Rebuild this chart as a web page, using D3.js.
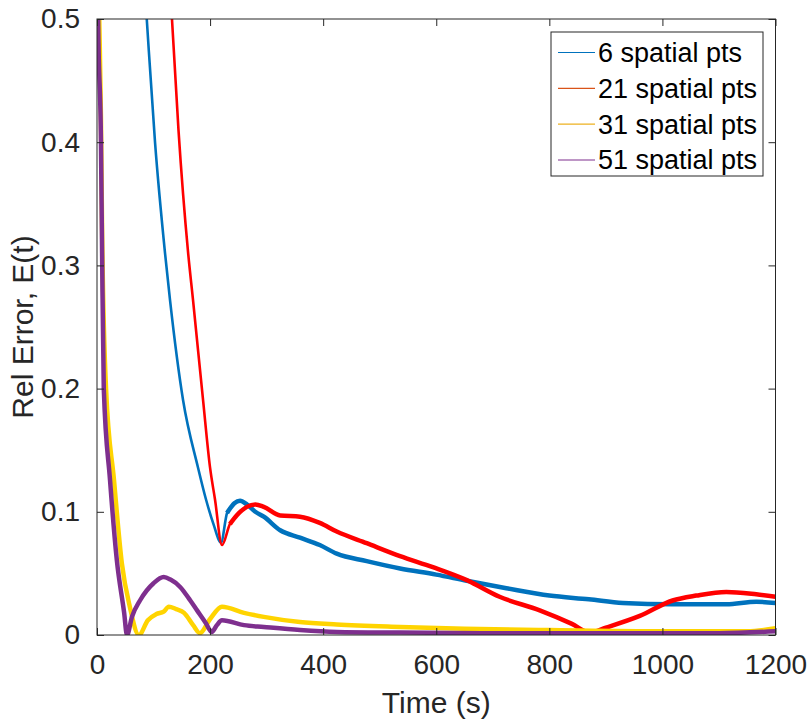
<!DOCTYPE html>
<html><head><meta charset="utf-8">
<script src="https://cdn.jsdelivr.net/npm/d3@7"></script>
<style>body{margin:0;background:#fff;} svg{display:block;font-family:"Liberation Sans",Arial,sans-serif;}</style>
</head><body>
<script>
// ---- data ----
const seriesNames = ["6 spatial pts", "21 spatial pts", "31 spatial pts", "51 spatial pts"];
const lineColors = ["#0072BD", "#FF0000", "#FFD400", "#7E2F8E"];
const legendColors = ["#0072BD", "#D95319", "#EDB120", "#7E2F8E"];
const xTicks = [0, 200, 400, 600, 800, 1000, 1200];
const yTicks = [0, 0.1, 0.2, 0.3, 0.4, 0.5];
const yTickLabels = ["0", "0.1", "0.2", "0.3", "0.4", "0.5"];

const t6 = [70, 88, 102.6, 120.3, 129.1, 152.1, 178.6, 192.8, 206, 219.3, 230, 243, 253, 265, 280, 295, 324, 359, 394, 424, 477, 536, 600, 654, 724, 800, 870, 930, 1018, 1113, 1166, 1200];
const v6 = [0.63, 0.5, 0.4, 0.31, 0.272, 0.191, 0.136, 0.110, 0.090, 0.075, 0.099, 0.107, 0.109, 0.106, 0.100, 0.096, 0.085, 0.079, 0.073, 0.066, 0.060, 0.054, 0.049, 0.044, 0.038, 0.032, 0.029, 0.026, 0.025, 0.025, 0.027, 0.026];

const t21 = [118, 132.6, 144.1, 161, 169.8, 187.5, 199.9, 208.7, 221, 235, 247, 265, 280, 295, 324, 359, 394, 424, 477, 536, 594, 654, 712, 783, 840, 872, 900, 960, 1018, 1060, 1113, 1166, 1200];
const v21 = [0.63, 0.5, 0.41, 0.311, 0.272, 0.191, 0.136, 0.110, 0.073, 0.090, 0.097, 0.104, 0.106, 0.104, 0.097, 0.096, 0.091, 0.084, 0.0745, 0.064, 0.055, 0.0445, 0.031, 0.020, 0.009, 0.002, 0.006, 0.0155, 0.028, 0.032, 0.035, 0.033, 0.031];

const t31 = [0, 4, 7, 9, 16, 30, 44, 58, 74, 90, 105, 118, 127, 140, 154, 170, 182, 200, 221, 260, 295, 359, 424, 536, 650, 800, 1000, 1150, 1200];
const v31 = [0.6, 0.5, 0.42, 0.33, 0.2, 0.126, 0.058, 0.023, 0.0, 0.012, 0.017, 0.019, 0.023, 0.021, 0.018, 0.008, 0.0015, 0.013, 0.023, 0.018, 0.0147, 0.0105, 0.0085, 0.0065, 0.005, 0.004, 0.003, 0.003, 0.0055];

const t51 = [0, 2, 7, 9, 12, 23, 35, 48, 53, 62, 76, 100, 118, 130, 147, 165, 177, 192, 203, 212, 221, 260, 295, 359, 424, 536, 700, 900, 1100, 1200];
const v51 = [0.6, 0.5, 0.4, 0.31, 0.2, 0.126, 0.061, 0.018, 0.0, 0.015, 0.028, 0.042, 0.047, 0.045, 0.039, 0.028, 0.020, 0.010, 0.0024, 0.008, 0.012, 0.008, 0.0065, 0.004, 0.0025, 0.002, 0.0015, 0.0015, 0.0015, 0.003];

const seriesT = [t6, t21, t31, t51];
const seriesV = [v6, v21, v31, v51];

// ---- layout ----
const W = 809, H = 722;
const L = 97, R = 775.5, T = 19, B = 635;
const svg = d3.select("body").append("svg").attr("width", W).attr("height", H);

const x = d3.scaleLinear().domain([0, 1200]).range([L, R]);
const y = d3.scaleLinear().domain([0, 0.5]).range([B, T]);

svg.append("defs").append("clipPath").attr("id", "clip")
  .append("rect").attr("x", L).attr("y", T).attr("width", R - L).attr("height", B - T);

const line = d3.line().x(d => x(d[0])).y(d => y(d[1])).curve(d3.curveMonotoneX);
const plot = svg.append("g").attr("clip-path", "url(#clip)");

seriesT.forEach((ts, i) => {
  const pts = ts.map((t, k) => [t, seriesV[i][k]]);
  const thin = i < 2;
  plot.append("path").datum(pts).attr("d", line)
    .attr("fill", "none").attr("stroke", lineColors[i])
    .attr("stroke-width", thin ? 2.6 : 4.5).attr("stroke-linejoin", "round");
  if (thin) {
    const after = pts.filter(p => p[0] >= 228);
    plot.append("path").datum(after).attr("d", line)
      .attr("fill", "none").attr("stroke", lineColors[i])
      .attr("stroke-width", 4.5).attr("stroke-linejoin", "round");
  }
});

// ---- axes (box with inward ticks) ----
const axisColor = "#262626";
const tickLen = 7;
const ax = svg.append("g");
ax.append("rect").attr("x", L).attr("y", T).attr("width", R - L).attr("height", B - T)
  .attr("fill", "none").attr("stroke", axisColor).attr("stroke-width", 1);

const xAxisB = d3.axisBottom(x).tickValues(xTicks).tickSize(-tickLen).tickPadding(tickLen + 12).tickFormat(d3.format("d"));
const gxb = svg.append("g").attr("transform", `translate(0,${B})`).call(xAxisB);
gxb.select(".domain").remove();
gxb.selectAll("line").attr("stroke", axisColor);
gxb.selectAll("text").attr("fill", axisColor).attr("font-size", 28).attr("font-family", "Liberation Sans, Arial, sans-serif");

const xAxisT = d3.axisTop(x).tickValues(xTicks).tickSize(-tickLen).tickFormat("");
const gxt = svg.append("g").attr("transform", `translate(0,${T})`).call(xAxisT);
gxt.select(".domain").remove();
gxt.selectAll("line").attr("stroke", axisColor);

const yAxisL = d3.axisLeft(y).tickValues(yTicks).tickSize(-tickLen).tickPadding(tickLen + 10).tickFormat((d, i) => yTickLabels[i]);
const gyl = svg.append("g").attr("transform", `translate(${L},0)`).call(yAxisL);
gyl.select(".domain").remove();
gyl.selectAll("line").attr("stroke", axisColor);
gyl.selectAll("text").attr("fill", axisColor).attr("font-size", 28).attr("font-family", "Liberation Sans, Arial, sans-serif");

const yAxisR = d3.axisRight(y).tickValues(yTicks).tickSize(-tickLen).tickFormat("");
const gyr = svg.append("g").attr("transform", `translate(${R},0)`).call(yAxisR);
gyr.select(".domain").remove();
gyr.selectAll("line").attr("stroke", axisColor);

// axis labels
svg.append("text").attr("x", (L + R) / 2).attr("y", 713).attr("text-anchor", "middle")
  .attr("font-size", 30).attr("fill", axisColor).text("Time (s)");
svg.append("text").attr("transform", `translate(33,${(T + B) / 2}) rotate(-90)`).attr("text-anchor", "middle")
  .attr("font-size", 30).attr("fill", axisColor).text("Rel Error, E(t)");

// ---- legend ----
const lg = svg.append("g");
const lgX = 551, lgY = 32, lgW = 212, lgH = 144;
lg.append("rect").attr("x", lgX).attr("y", lgY).attr("width", lgW).attr("height", lgH)
  .attr("fill", "#fff").attr("stroke", axisColor).attr("stroke-width", 1);
const rowY = d3.scalePoint().domain(seriesNames).range([52.5, 160]);
seriesNames.forEach((n, i) => {
  const yy = rowY(n);
  lg.append("line").attr("x1", 558).attr("x2", 595).attr("y1", yy).attr("y2", yy)
    .attr("stroke", legendColors[i]).attr("stroke-width", 1.2);
  lg.append("text").attr("x", 598).attr("y", yy).attr("dy", "0.35em")
    .attr("font-size", 27).attr("fill", "#000").text(n);
});
</script>
</body></html>
